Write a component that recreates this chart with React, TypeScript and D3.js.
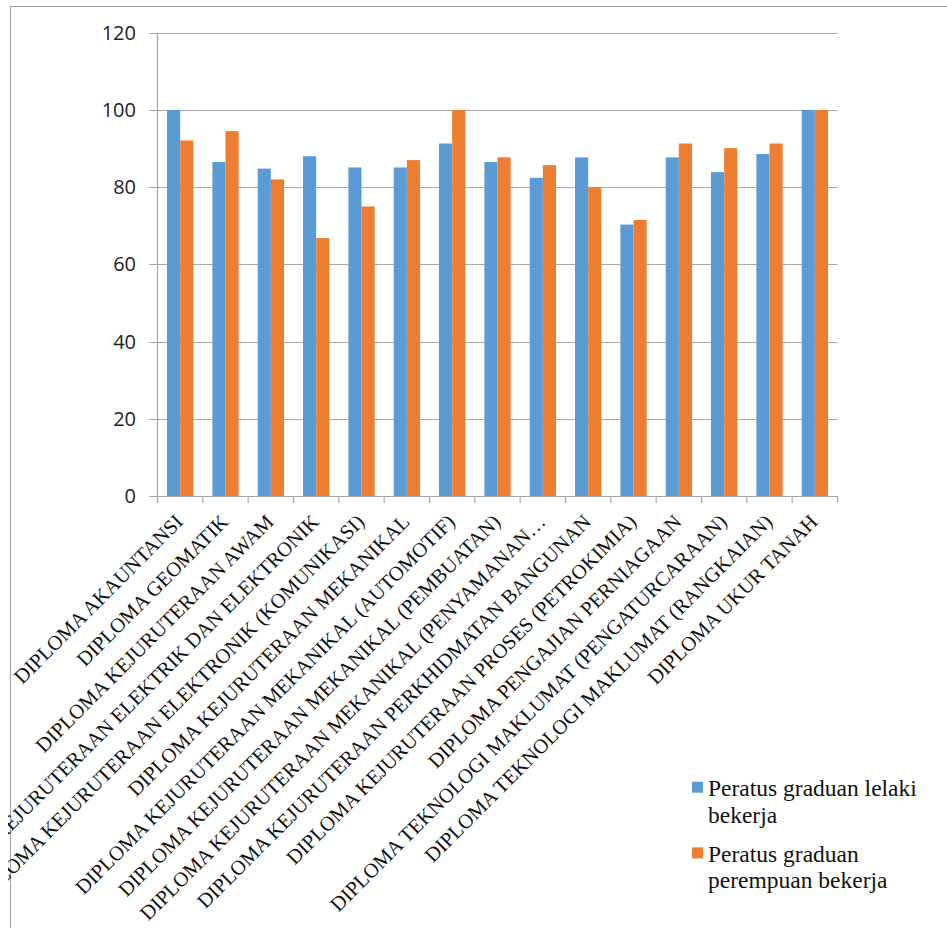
import React from "react";
import * as d3 from "d3";

const categories = [
  "DIPLOMA AKAUNTANSI",
  "DIPLOMA GEOMATIK",
  "DIPLOMA KEJURUTERAAN AWAM",
  "DIPLOMA KEJURUTERAAN ELEKTRIK DAN ELEKTRONIK",
  "DIPLOMA KEJURUTERAAN ELEKTRONIK (KOMUNIKASI)",
  "DIPLOMA KEJURUTERAAN MEKANIKAL",
  "DIPLOMA KEJURUTERAAN MEKANIKAL (AUTOMOTIF)",
  "DIPLOMA KEJURUTERAAN MEKANIKAL (PEMBUATAN)",
  "DIPLOMA KEJURUTERAAN MEKANIKAL (PENYAMANAN…",
  "DIPLOMA KEJURUTERAAN PERKHIDMATAN BANGUNAN",
  "DIPLOMA KEJURUTERAAN PROSES (PETROKIMIA)",
  "DIPLOMA PENGAJIAN PERNIAGAAN",
  "DIPLOMA TEKNOLOGI MAKLUMAT (PENGATURCARAAN)",
  "DIPLOMA TEKNOLOGI MAKLUMAT (RANGKAIAN)",
  "DIPLOMA UKUR TANAH",
];

const maleValues = [100, 86.5, 84.8, 88.0, 85.1, 85.1, 91.3, 86.5, 82.4, 87.7, 70.3, 87.7, 83.9, 88.6, 100];
const femaleValues = [92.1, 94.5, 82.0, 66.8, 75.0, 87.0, 100, 87.7, 85.7, 80.0, 71.5, 91.3, 90.1, 91.3, 100];

const yTicks = [0, 20, 40, 60, 80, 100, 120];

const seriesNames = ["Peratus graduan lelaki bekerja", "Peratus graduan perempuan bekerja"];
const legendLines = [
  ["Peratus graduan lelaki", "bekerja"],
  ["Peratus graduan", "perempuan bekerja"],
];
const seriesColors = ["#5B9BD5", "#ED7D31"];

const SERIF = '"Liberation Serif", "Times New Roman", Tinos, "DejaVu Serif", serif';

export default function App() {
  const W = 947;
  const H = 928;
  const left = 157.5;
  const right = 837.5;
  const top = 32.7;
  const bottom = 496;

  const x = d3.scaleBand<string>().domain(categories).range([left, right]).paddingInner(0.42).paddingOuter(0.21);
  const sub = d3.scaleBand<number>().domain([0, 1]).range([0, x.bandwidth()]);
  const y = d3.scaleLinear().domain([0, 120]).range([bottom, top]);
  const series = [maleValues, femaleValues];
  const step = x.step();
  const grid = "#A6A6A6";

  return (
    <svg width={W} height={H} style={{ position: "absolute", left: 0, top: 0, background: "#fff" }}>
      <defs>
        <clipPath id="labclip">
          <rect x={8} y={0} width={W} height={H} />
        </clipPath>
      </defs>
      <rect x={10.5} y={6.5} width={W + 20} height={H + 20} fill="#fff" stroke="#A0A0A0" strokeWidth={1} />
      {yTicks.map((t) => (
        <g key={t}>
          <line x1={149} x2={right} y1={Math.round(y(t)) + 0.5} y2={Math.round(y(t)) + 0.5} stroke={grid} strokeWidth={1.2} />
          <text x={136} y={y(t)} dy="0.35em" textAnchor="end" style={{ fontFamily: '"Open Sans", sans-serif', fontSize: 20 }} fill="#222">
            {t}
          </text>
        </g>
      ))}
      <line x1={left} x2={left} y1={top} y2={bottom} stroke={grid} strokeWidth={1.2} />
      {categories.map((c, i) =>
        series.map((vals, s) => (
          <rect
            key={c + s}
            x={(x(c) as number) + (sub(s) as number)}
            y={y(vals[i])}
            width={sub.bandwidth()}
            height={y(0) - y(vals[i])}
            fill={seriesColors[s]}
          />
        ))
      )}
      <line x1={149} x2={right} y1={bottom + 0.5} y2={bottom + 0.5} stroke={grid} strokeWidth={1.2} />
      {d3.range(categories.length + 1).map((k) => (
        <line key={k} x1={left + k * step} x2={left + k * step} y1={bottom} y2={bottom + 7} stroke={grid} strokeWidth={1.2} />
      ))}
      <g clipPath="url(#labclip)">
        {categories.map((c) => {
          const cx = (x(c) as number) + x.bandwidth() / 2 + 4;
          const cy = 523;
          return (
            <text
              key={c}
              x={cx}
              y={cy}
              transform={`rotate(-45 ${cx} ${cy})`}
              textAnchor="end"
              style={{ fontFamily: SERIF, fontSize: 20.5 }}
              fill="#111"
            >
              {c}
            </text>
          );
        })}
      </g>
      {seriesNames.map((n, s) => {
        const base = s === 0 ? 796 : 861.7;
        return (
          <g key={n}>
            <rect x={692} y={base - 14.3} width={11} height={11} fill={seriesColors[s]} />
            {legendLines[s].map((ln, j) => (
              <text key={j} x={708} y={base + j * 26.7} style={{ fontFamily: SERIF, fontSize: 23.5 }} fill="#111">
                {ln}
              </text>
            ))}
          </g>
        );
      })}
    </svg>
  );
}
